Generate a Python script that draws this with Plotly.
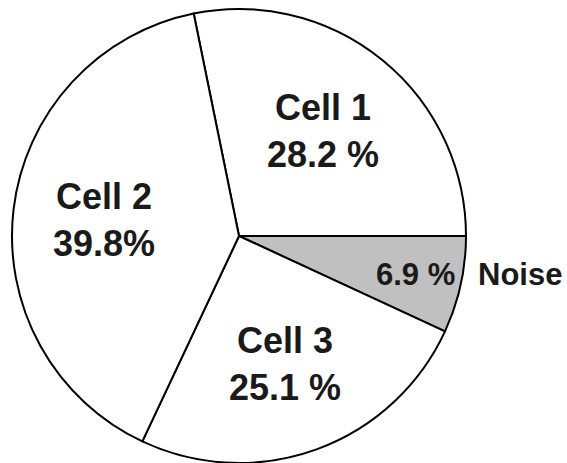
import plotly.graph_objects as go

# Data (clockwise order starting at Cell 1)
labels = ["Cell 1", "Noise", "Cell 3", "Cell 2"]
values = [28.2, 6.9, 25.1, 39.8]
pct_text = ["28.2 %", "6.9 %", "25.1 %", "39.8%"]
colors = ["#ffffff", "#c0c0c0", "#ffffff", "#ffffff"]

W, H = 567, 463
cx, cy, R = 239, 236, 227  # pie centre / radius in pixels

# rotation so that Cell 1 ends at 3 o'clock
rotation = 90 - values[0] * 3.6

fig = go.Figure(go.Pie(
    labels=labels,
    values=values,
    sort=False,
    direction="clockwise",
    rotation=rotation,
    marker=dict(colors=colors, line=dict(color="#000000", width=2)),
    textinfo="none",
    hoverinfo="label+percent",
    showlegend=False,
    domain=dict(x=[(cx - R) / W, (cx + R) / W], y=[(H - cy - R) / H, (H - cy + R) / H]),
))

def px(x, y):
    return x / W, 1 - y / H

font_big = dict(family="Liberation Sans, Arial", size=36, color="#1a1a1a")
font_small = dict(family="Liberation Sans, Arial", size=31, color="#1a1a1a")

# label centres in pixels (layout)
label_pos = {"Cell 1": (323, 131), "Noise": (415, 274), "Cell 3": (285, 364), "Cell 2": (104, 220)}

annotations = []
for lab, txt in zip(labels, pct_text):
    x, y = px(*label_pos[lab])
    if lab == "Noise":
        annotations.append(dict(x=x, y=y, xref="paper", yref="paper", text=f"<b>{txt}</b>",
                                showarrow=False, font=font_small, xanchor="center", yanchor="middle"))
        nx, ny = px(520, 274)
        annotations.append(dict(x=nx, y=ny, xref="paper", yref="paper", text=f"<b>{lab}</b>",
                                showarrow=False, font=font_small, xanchor="center", yanchor="middle"))
    else:
        annotations.append(dict(x=x, y=y, xref="paper", yref="paper", text=f"<b>{lab}<br>{txt}</b>",
                                showarrow=False, font=font_big, xanchor="center", yanchor="middle"))

fig.update_layout(
    width=W, height=H,
    margin=dict(l=0, r=0, t=0, b=0),
    paper_bgcolor="#ffffff",
    plot_bgcolor="#ffffff",
    annotations=annotations,
)

fig.write_html("out.html",
               config={"displayModeBar": False},
               post_script="document.body.style.margin='0px';document.body.style.overflow='hidden';")
